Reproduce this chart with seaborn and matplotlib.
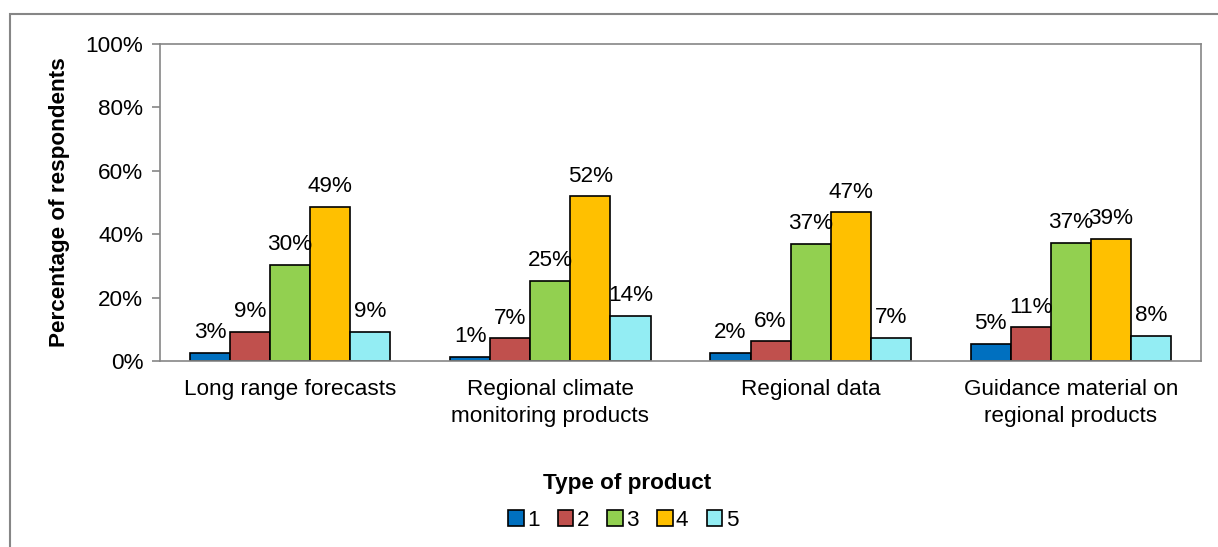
import matplotlib
matplotlib.use("Agg")
import matplotlib.pyplot as plt
import matplotlib.patches as mpatches
import seaborn as sns
import pandas as pd

categories = ["Long range forecasts", "Regional climate\nmonitoring products",
              "Regional data", "Guidance material on\nregional products"]
series_names = ["1", "2", "3", "4", "5"]
values_1 = [2.6, 1.3, 2.5, 5.3]
values_2 = [9.2, 7.1, 6.2, 10.6]
values_3 = [30.3, 25.3, 37.0, 37.3]
values_4 = [48.7, 51.9, 46.9, 38.6]
values_5 = [9.2, 14.3, 7.4, 8.0]
colors = ["#0070C0", "#C0504D", "#92D050", "#FFC000", "#93EDF3"]
y_ticks = [0, 20, 40, 60, 80, 100]

all_vals = [values_1, values_2, values_3, values_4, values_5]
rows = []
for s, vals in zip(series_names, all_vals):
    for c, v in zip(categories, vals):
        rows.append({"category": c, "series": s, "value": v})
df = pd.DataFrame(rows)

sns.set_theme(style="white")
plt.rcParams['font.family'] = ['Liberation Sans', 'DejaVu Sans']
plt.rcParams['text.color'] = 'black'
plt.rcParams['xtick.color'] = 'black'
plt.rcParams['ytick.color'] = 'black'
plt.rcParams['axes.labelcolor'] = 'black'
FS = 16.2

W, H = 1218, 547
fig = plt.figure(figsize=(W / 100, H / 100), dpi=100)
ax = fig.add_axes([160 / W, 1 - 361 / H, (1201 - 160) / W, (361 - 44) / H])

sns.barplot(data=df, x="category", y="value", hue="series", order=categories,
            hue_order=series_names, palette=colors, width=0.77,
            edgecolor="black", linewidth=1.2, saturation=1, ax=ax, legend=False)

for cont, vals in zip(ax.containers, all_vals):
    ax.bar_label(cont, labels=[f"{v:.0f}%" for v in vals], padding=7,
                 fontsize=FS, color="black")

ax.set_ylim(0, 100)
ax.set_xlim(-0.5, len(categories) - 0.5)
ax.set_yticks(y_ticks)
ax.set_yticklabels([f"{t}%" for t in y_ticks], fontsize=FS)
ax.set_xticks(range(len(categories)))
ax.set_xticklabels(categories, fontsize=FS, linespacing=1.35)
ax.set_xticks([i - 0.5 for i in range(len(categories) + 1)], minor=True)
ax.tick_params(axis="x", which="major", length=0, pad=13, labelcolor="black")
ax.tick_params(axis="x", which="minor", length=6, width=1.2, color="#868686")
ax.tick_params(axis="y", length=6, width=1.2, color="#868686", pad=6, left=True,
               labelcolor="black")
for sp in ax.spines.values():
    sp.set_color("#868686")
    sp.set_linewidth(1.2)
    sp.set_visible(True)
ax.set_xlabel("")
ax.set_ylabel("Percentage of respondents", fontsize=FS, fontweight="bold",
              labelpad=11, color="black")

fig.text(627 / W, 1 - 483 / H, "Type of product", ha="center", va="center",
         fontsize=FS, fontweight="bold", color="black")

handles = [mpatches.Patch(facecolor=c, edgecolor="black", linewidth=1.2, label=s)
           for c, s in zip(colors, series_names)]
fig.legend(handles=handles, loc="center", bbox_to_anchor=(623 / W, 1 - 520 / H),
           ncol=5, frameon=False, fontsize=FS, handlelength=0.7, handleheight=0.7,
           handletextpad=0.15, columnspacing=0.8, borderaxespad=0)

frame = mpatches.Rectangle((10 / W, -0.1), 1.2, 1 - 14 / H + 0.1, transform=fig.transFigure,
                           facecolor="none", edgecolor="#868686", linewidth=1.5,
                           clip_on=False)
fig.add_artist(frame)

fig.savefig("out.png", dpi=100)
